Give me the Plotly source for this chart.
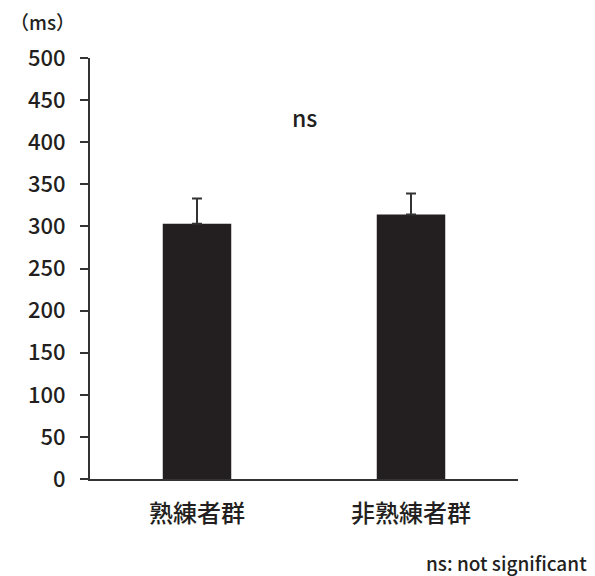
import plotly.graph_objects as go

categories = ["熟練者群", "非熟練者群"]
means = [303, 314]
errors = [30, 25]
y_ticks = [0, 50, 100, 150, 200, 250, 300, 350, 400, 450, 500]

FONT = "Noto Sans CJK JP"
INK = "#231f20"

fig = go.Figure()
fig.add_trace(go.Bar(
    x=categories, y=means,
    width=0.32,
    marker=dict(color=INK, line=dict(width=0)),
    error_y=dict(type="data", array=errors, symmetric=False, arrayminus=[0, 0],
                 color="#333333", thickness=2, width=5),
))

# page has an 8px body margin, so the figure is 8px smaller and shifted
fig.update_layout(
    width=587, height=568,
    margin=dict(l=82, r=77, t=50, b=97, autoexpand=False),
    paper_bgcolor="white", plot_bgcolor="white",
    showlegend=False,
    font=dict(family=FONT, color=INK, size=20),
    xaxis=dict(
        showline=True, linecolor="#333333", linewidth=2,
        ticks="", range=[-0.5, 1.5],
        tickfont=dict(size=24, family=FONT, color=INK, weight=500),
        ticklabelstandoff=12,
    ),
    yaxis=dict(
        range=[0, 500], tickvals=y_ticks,
        showline=True, linecolor="#333333", linewidth=2,
        ticks="outside", ticklen=8, tickcolor="#333333", tickwidth=2,
        showgrid=False, zeroline=False,
        tickfont=dict(size=22, family=FONT, color=INK, weight=500),
        ticklabelstandoff=10,
    ),
)

fig.add_annotation(x=(9 - 90) / 428, y=(479 - 22) / 421, xref="paper", yref="paper",
                   text="（ms）", showarrow=False, xanchor="left", yanchor="middle",
                   borderpad=0,
                   font=dict(size=19, family=FONT, color=INK, weight=500))
fig.add_annotation(x=0.5, y=430, xref="x", yref="y", text="ns", showarrow=False,
                   font=dict(size=23, family=FONT, color=INK, weight=500))
fig.add_annotation(x=(589 - 90) / 428, y=(479 - 562) / 421, xref="paper", yref="paper",
                   text="ns: not significant", showarrow=False, xanchor="right", yanchor="middle",
                   font=dict(size=19, family=FONT, color=INK, weight=500))

fig.write_html("out.html")
